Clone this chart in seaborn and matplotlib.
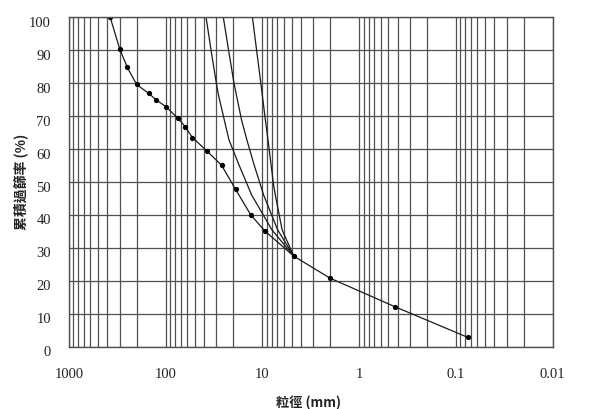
import numpy as np
import pandas as pd
import matplotlib
matplotlib.use("Agg")
import matplotlib.pyplot as plt
import matplotlib.transforms as mtransforms
from matplotlib.ticker import LogLocator, NullFormatter
import seaborn as sns

# ---- data ----
main_size = [375, 300, 250, 200, 150, 125, 100, 75, 63, 53, 37.5, 26.5, 19, 13.2, 9.5, 4.75, 2, 0.425, 0.075]
main_pass = [100, 90.5, 84.8, 79.6, 76.9, 74.9, 72.9, 69.4, 66.8, 63.5, 59.4, 55.1, 47.8, 40.0, 35.2, 27.5, 20.8, 12.1, 2.8]

curve_a_size = [38.3, 34.0, 30.0, 28.5, 24.8, 22.2, 17.5, 12.96, 8.0, 4.75]
curve_a_pass = [100, 90, 80, 76.4, 68.8, 62.8, 55.2, 46.1, 35.5, 27.5]

curve_b_size = [25.4, 22.4, 19.7, 18.6, 16.45, 14.5, 12.2, 9.74, 6.98, 4.75]
curve_b_pass = [100, 90, 80, 76.4, 68.8, 62.8, 55.2, 46.1, 35.5, 27.5]

curve_c_size = [12.7, 11.5, 10.4, 9.33, 8.77, 7.68, 7.37, 6.27, 4.75]
curve_c_pass = [100, 90, 80, 68.8, 62.8, 49.1, 46.1, 35.5, 27.5]

x_ticks = [1000, 100, 10, 1, 0.1, 0.01]
x_tick_labels = ["1000", "100", "10", "1", "0.1", "0.01"]
y_ticks = [0, 10, 20, 30, 40, 50, 60, 70, 80, 90, 100]
x_label = "粒徑 (mm)"
y_label = "累積過篩率 (%)"

# ---- style ----
sns.set_theme(style="white")
plt.rcParams["font.family"] = ["Liberation Serif", "Noto Sans CJK TC", "DejaVu Sans"]

fig = plt.figure(figsize=(5.91, 4.09), dpi=100)
ax = fig.add_axes([69 / 591, 1 - 346.7 / 409, 483.7 / 591, 329.4 / 409])

line_color = "#1a1a1a"
grid_color = "#505050"

for xs, ys in [(curve_a_size, curve_a_pass), (curve_b_size, curve_b_pass), (curve_c_size, curve_c_pass)]:
    sns.lineplot(x=xs, y=ys, ax=ax, sort=False, estimator=None, color=line_color, lw=0.9)

sns.lineplot(x=main_size, y=main_pass, ax=ax, sort=False, estimator=None,
             color=line_color, lw=0.9, marker="o", markersize=3.8,
             markeredgewidth=0, markerfacecolor="black")

ax.set_xscale("log")
ax.set_xlim(1000, 0.01)
ax.set_ylim(0, 100)
ax.set_xticks(x_ticks)
ax.set_xticklabels(x_tick_labels)
ax.xaxis.set_minor_locator(LogLocator(base=10, subs=np.arange(2, 10), numticks=100))
ax.xaxis.set_minor_formatter(NullFormatter())
ax.set_yticks(y_ticks)
ax.set_yticklabels([str(v) for v in y_ticks])

ax.grid(True, which="both", axis="x", color=grid_color, lw=0.9)
ax.grid(True, which="major", axis="y", color=grid_color, lw=0.9)
ax.set_axisbelow(True)
ax.tick_params(which="both", length=0)
ax.tick_params(axis="x", pad=15, labelsize=10.5, colors="#222222")
ax.tick_params(axis="y", pad=13, labelsize=10.5, colors="#222222")
for s in ax.spines.values():
    s.set_color(grid_color)
    s.set_linewidth(1.0)

shift = mtransforms.ScaledTranslation(0, -4.5 / 100, fig.dpi_scale_trans)
for lbl in ax.get_yticklabels():
    lbl.set_transform(lbl.get_transform() + shift)

ax.set_xlabel(x_label, family=["Noto Sans CJK TC", "DejaVu Sans"], fontsize=9.5,
              fontweight="bold", color="#222222")
ax.xaxis.set_label_coords((308 - 69) / 483.7, (346.7 - 396) / 329.4)
ax.set_ylabel(y_label, family=["Noto Sans CJK TC", "DejaVu Sans"], fontsize=10,
              fontweight="bold", color="#222222")
ax.yaxis.set_label_coords((28 - 69) / 483.7, 0.5)

fig.savefig("out.png", dpi=100, facecolor="white")
